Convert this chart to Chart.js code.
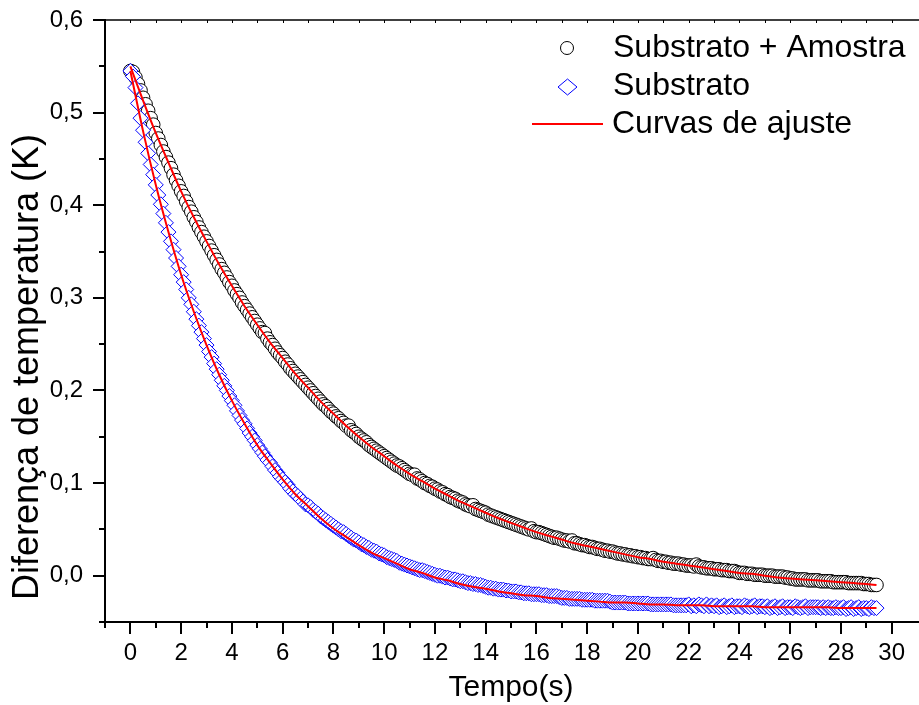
<!DOCTYPE html>
<html>
<head>
<meta charset="utf-8">
<script src="https://cdn.jsdelivr.net/npm/chart.js@4.4.0/dist/chart.umd.min.js"></script>
<style>
  html, body { margin: 0; padding: 0; background: #ffffff; }
  canvas { display: block; }
</style>
</head>
<body>
<canvas id="grafico" width="919" height="705"></canvas>
<script>
// Intervalo de amostragem das medidas (s)
const passo = 0.1;

// Diferença de temperatura medida (K) – substrato + amostra, a cada 0,1 s
const amostra = [
  0.545,0.544,0.538,0.531,0.524,0.516,0.509,0.502,0.494,0.487,
  0.478,0.472,0.465,0.458,0.452,0.446,0.440,0.433,0.427,0.421,
  0.415,0.410,0.404,0.398,0.393,0.387,0.382,0.376,0.371,0.366,
  0.361,0.356,0.351,0.346,0.341,0.336,0.331,0.327,0.322,0.317,
  0.313,0.308,0.304,0.300,0.295,0.291,0.287,0.283,0.279,0.275,
  0.271,0.267,0.263,0.262,0.256,0.252,0.249,0.245,0.241,0.238,
  0.235,0.231,0.228,0.224,0.221,0.218,0.215,0.212,0.209,0.206,
  0.203,0.200,0.197,0.194,0.191,0.188,0.185,0.183,0.180,0.177,
  0.175,0.172,0.170,0.167,0.165,0.162,0.162,0.157,0.155,0.153,
  0.150,0.148,0.146,0.144,0.141,0.139,0.137,0.135,0.133,0.131,
  0.129,0.127,0.125,0.123,0.121,0.119,0.118,0.116,0.114,0.112,
  0.110,0.109,0.109,0.105,0.104,0.102,0.100,0.099,0.097,0.096,
  0.094,0.093,0.091,0.090,0.088,0.087,0.085,0.084,0.083,0.081,
  0.080,0.079,0.077,0.076,0.075,0.076,0.072,0.071,0.070,0.069,
  0.068,0.066,0.065,0.064,0.063,0.062,0.061,0.060,0.059,0.058,
  0.057,0.056,0.055,0.054,0.053,0.052,0.051,0.050,0.051,0.048,
  0.047,0.047,0.046,0.045,0.044,0.043,0.042,0.041,0.041,0.040,
  0.039,0.038,0.038,0.037,0.038,0.035,0.035,0.034,0.033,0.033,
  0.032,0.031,0.031,0.030,0.029,0.029,0.028,0.027,0.027,0.026,
  0.026,0.025,0.024,0.024,0.023,0.023,0.022,0.022,0.021,0.021,
  0.020,0.020,0.019,0.019,0.018,0.018,0.019,0.017,0.016,0.016,
  0.015,0.015,0.014,0.014,0.013,0.013,0.013,0.012,0.012,0.011,
  0.011,0.011,0.010,0.012,0.010,0.009,0.009,0.008,0.008,0.008,
  0.007,0.007,0.007,0.006,0.006,0.006,0.005,0.005,0.005,0.004,
  0.003,0.003,0.003,0.002,0.002,0.002,0.001,0.001,0.001,0.001,
  0.000,0.000,0.000,0.000,-0.001,-0.001,-0.001,-0.001,-0.002,-0.002,
  -0.003,-0.003,-0.004,-0.004,-0.004,-0.004,-0.004,-0.005,-0.005,-0.005,
  -0.005,-0.005,-0.006,-0.006,-0.006,-0.006,-0.006,-0.007,-0.007,-0.007,
  -0.007,-0.007,-0.007,-0.008,-0.008,-0.008,-0.008,-0.008,-0.008,-0.009,
  -0.009,-0.009,-0.010,-0.010,-0.010
];

// Diferença de temperatura medida (K) – somente substrato, a cada 0,1 s
const substrato = [
  0.545,0.539,0.527,0.510,0.494,0.481,0.468,0.456,0.444,0.433,
  0.422,0.411,0.401,0.391,0.381,0.371,0.361,0.352,0.343,0.334,
  0.325,0.317,0.309,0.300,0.293,0.285,0.277,0.270,0.263,0.256,
  0.249,0.242,0.236,0.229,0.223,0.217,0.211,0.205,0.200,0.194,
  0.189,0.184,0.178,0.173,0.168,0.164,0.159,0.154,0.150,0.146,
  0.141,0.137,0.133,0.129,0.125,0.122,0.118,0.114,0.111,0.107,
  0.104,0.101,0.098,0.094,0.091,0.088,0.086,0.083,0.080,0.077,
  0.076,0.074,0.071,0.069,0.067,0.064,0.062,0.060,0.058,0.056,
  0.054,0.052,0.050,0.048,0.047,0.045,0.043,0.041,0.039,0.038,
  0.036,0.034,0.033,0.031,0.030,0.028,0.027,0.026,0.024,0.023,
  0.022,0.020,0.019,0.018,0.017,0.016,0.014,0.013,0.012,0.011,
  0.010,0.009,0.008,0.007,0.006,0.006,0.005,0.004,0.003,0.002,
  0.001,0.000,0.000,-0.001,-0.002,-0.002,-0.003,-0.004,-0.004,-0.005,
  -0.006,-0.006,-0.007,-0.008,-0.008,-0.009,-0.009,-0.010,-0.010,-0.011,
  -0.012,-0.013,-0.013,-0.014,-0.014,-0.015,-0.015,-0.015,-0.016,-0.016,
  -0.017,-0.017,-0.017,-0.018,-0.018,-0.019,-0.019,-0.019,-0.020,-0.020,
  -0.020,-0.020,-0.021,-0.021,-0.021,-0.022,-0.022,-0.022,-0.022,-0.023,
  -0.024,-0.024,-0.024,-0.025,-0.025,-0.025,-0.025,-0.025,-0.026,-0.026,
  -0.026,-0.026,-0.026,-0.027,-0.027,-0.027,-0.027,-0.027,-0.027,-0.028,
  -0.029,-0.029,-0.029,-0.029,-0.029,-0.029,-0.030,-0.030,-0.030,-0.030,
  -0.030,-0.030,-0.030,-0.030,-0.030,-0.031,-0.031,-0.031,-0.031,-0.031,
  -0.031,-0.031,-0.031,-0.031,-0.032,-0.032,-0.032,-0.032,-0.032,-0.032,
  -0.031,-0.033,-0.032,-0.033,-0.031,-0.032,-0.033,-0.031,-0.033,-0.032,
  -0.033,-0.032,-0.034,-0.033,-0.032,-0.034,-0.033,-0.032,-0.034,-0.033,
  -0.033,-0.034,-0.032,-0.033,-0.034,-0.033,-0.032,-0.034,-0.033,-0.033,
  -0.034,-0.033,-0.035,-0.034,-0.033,-0.035,-0.034,-0.033,-0.035,-0.034,
  -0.034,-0.035,-0.033,-0.034,-0.035,-0.034,-0.033,-0.035,-0.034,-0.034,
  -0.034,-0.034,-0.035,-0.034,-0.035,-0.034,-0.035,-0.035,-0.034,-0.035,
  -0.035,-0.034,-0.036,-0.035,-0.034,-0.036,-0.035,-0.034,-0.036,-0.035,
  -0.035,-0.036,-0.034,-0.035,-0.035
];

// Curvas de ajuste (K), avaliadas nos instantes de tempoAjuste (s)
const tempoAjuste = [
  0,0.5,1,1.5,2,2.5,3,3.5,4,4.5,5,5.5,6,6.5,7,7.5,8,8.5,9,9.5,
  10,10.5,11,11.5,12,12.5,13,13.5,14,14.5,15,15.5,16,16.5,17,17.5,18,18.5,19,19.5,
  20,20.5,21,21.5,22,22.5,23,23.5,24,24.5,25,25.5,26,26.5,27,27.5,28,28.5,29,29.4
];
const ajusteAmostra = [
  0.550,0.513,0.478,0.446,0.415,0.387,0.361,0.336,0.313,0.291,
  0.271,0.252,0.235,0.218,0.203,0.188,0.175,0.162,0.150,0.139,
  0.129,0.119,0.110,0.102,0.094,0.087,0.080,0.074,0.068,0.062,
  0.057,0.052,0.047,0.043,0.039,0.035,0.032,0.029,0.026,0.023,
  0.020,0.018,0.015,0.013,0.011,0.009,0.007,0.005,0.003,0.002,
  0.000,-0.002,-0.003,-0.004,-0.005,-0.006,-0.007,-0.008,-0.009,-0.010
];
const ajusteSubstrato = [
  0.545,0.480,0.422,0.371,0.325,0.285,0.249,0.217,0.189,0.164,
  0.141,0.122,0.104,0.088,0.075,0.062,0.051,0.042,0.033,0.025,
  0.019,0.013,0.007,0.003,-0.002,-0.005,-0.009,-0.012,-0.014,-0.017,
  -0.019,-0.021,-0.022,-0.024,-0.025,-0.026,-0.027,-0.028,-0.029,-0.029,
  -0.030,-0.031,-0.031,-0.032,-0.032,-0.032,-0.033,-0.033,-0.033,-0.033,
  -0.034,-0.034,-0.034,-0.034,-0.034,-0.034,-0.035,-0.035,-0.035,-0.035
];

// Marcas dos eixos
const xMaiores = [0,2,4,6,8,10,12,14,16,18,20,22,24,26,28,30];
const xMenores = [-1,1,3,5,7,9,11,13,15,17,19,21,23,25,27,29];
const yMaiores = [0,0.1,0.2,0.3,0.4,0.5,0.6];
const yMenores = [-0.05,0.05,0.15,0.25,0.35,0.45,0.55];

const rotulos = {
  serieAmostra: 'Substrato + Amostra',
  serieSubstrato: 'Substrato',
  ajuste: 'Curvas de ajuste',
  eixoX: 'Tempo(s)',
  eixoY: 'Diferença de temperatura (K)'
};

const fonte = '"Liberation Sans", Arial, Helvetica, sans-serif';
const tempo = amostra.map((_, i) => Math.round(i * passo * 10) / 10);
const pares = (xs, ys) => ys.map((v, i) => ({ x: xs[i], y: v }));

// Eixos no estilo do Origin: linhas, marcas maiores/menores, legenda e títulos
const moldura = {
  id: 'moldura',
  afterDraw(chart) {
    const { ctx, chartArea: a, scales: { x, y } } = chart;
    const W = chart.width;
    ctx.save();
    ctx.strokeStyle = '#000';
    ctx.lineCap = 'butt';

    // linha superior com marcas curtas
    ctx.lineWidth = 1.5;
    ctx.beginPath();
    ctx.moveTo(a.left, a.top);
    ctx.lineTo(W, a.top);
    ctx.stroke();
    ctx.lineWidth = 1;
    ctx.beginPath();
    for (const v of xMaiores.concat(xMenores)) {
      const px = Math.round(x.getPixelForValue(v)) + 0.5;
      ctx.moveTo(px, a.top);
      ctx.lineTo(px, a.top + 3);
    }
    ctx.stroke();

    // eixos esquerdo e inferior
    ctx.lineWidth = 2;
    ctx.beginPath();
    ctx.moveTo(a.left, a.top - 1);
    ctx.lineTo(a.left, a.bottom + 1);
    ctx.moveTo(a.left - 1, a.bottom);
    ctx.lineTo(W, a.bottom);
    ctx.stroke();

    ctx.beginPath();
    for (const v of xMaiores) {
      const px = Math.round(x.getPixelForValue(v));
      ctx.moveTo(px, a.bottom);
      ctx.lineTo(px, a.bottom + 12);
    }
    for (const v of xMenores) {
      const px = Math.round(x.getPixelForValue(v));
      ctx.moveTo(px, a.bottom);
      ctx.lineTo(px, a.bottom + 6);
    }
    for (const v of yMaiores) {
      const py = Math.round(y.getPixelForValue(v));
      ctx.moveTo(a.left, py);
      ctx.lineTo(a.left - 12, py);
    }
    for (const v of yMenores) {
      const py = Math.round(y.getPixelForValue(v));
      ctx.moveTo(a.left, py);
      ctx.lineTo(a.left - 6, py);
    }
    ctx.stroke();

    // legenda
    ctx.lineWidth = 1;
    ctx.strokeStyle = '#000';
    ctx.fillStyle = '#fff';
    ctx.beginPath();
    ctx.arc(567, 48, 6.5, 0, Math.PI * 2);
    ctx.fill();
    ctx.stroke();

    ctx.strokeStyle = '#0000ff';
    ctx.beginPath();
    ctx.moveTo(558, 87);
    ctx.lineTo(567.5, 79);
    ctx.lineTo(577, 87);
    ctx.lineTo(567.5, 95);
    ctx.closePath();
    ctx.fill();
    ctx.stroke();

    ctx.strokeStyle = '#ff0000';
    ctx.lineWidth = 2;
    ctx.beginPath();
    ctx.moveTo(532, 124);
    ctx.lineTo(603, 124);
    ctx.stroke();

    ctx.fillStyle = '#000';
    ctx.font = '32px ' + fonte;
    ctx.textAlign = 'left';
    ctx.textBaseline = 'alphabetic';
    ctx.fillText(rotulos.serieAmostra, 613, 57);
    ctx.fillText(rotulos.serieSubstrato, 613, 95);
    ctx.fillText(rotulos.ajuste, 612, 133);

    // títulos dos eixos
    ctx.font = '30px ' + fonte;
    ctx.textAlign = 'center';
    ctx.fillText(rotulos.eixoX, 511, 696);

    ctx.save();
    ctx.translate(38, 367);
    ctx.rotate(-Math.PI / 2);
    ctx.font = '36px ' + fonte;
    ctx.textAlign = 'center';
    ctx.textBaseline = 'alphabetic';
    ctx.fillText(rotulos.eixoY, 0, 0);
    ctx.restore();

    ctx.restore();
  }
};

new Chart(document.getElementById('grafico'), {
  type: 'scatter',
  data: {
    datasets: [
      {
        label: rotulos.serieAmostra,
        data: pares(tempo, amostra),
        pointStyle: 'circle',
        pointRadius: 6.8,
        borderColor: '#000000',
        backgroundColor: '#ffffff',
        borderWidth: 1,
        order: 4
      },
      {
        label: rotulos.serieSubstrato,
        data: pares(tempo, substrato),
        pointStyle: 'rectRot',
        pointRadius: 7.5,
        borderColor: '#0000ff',
        backgroundColor: '#ffffff',
        borderWidth: 1,
        order: 3
      },
      {
        type: 'line',
        label: rotulos.ajuste,
        data: pares(tempoAjuste, ajusteAmostra),
        borderColor: '#ff0000',
        borderWidth: 2,
        pointRadius: 0,
        showLine: true,
        fill: false,
        cubicInterpolationMode: 'monotone',
        order: 1
      },
      {
        type: 'line',
        label: rotulos.ajuste,
        data: pares(tempoAjuste, ajusteSubstrato),
        borderColor: '#ff0000',
        borderWidth: 2,
        pointRadius: 0,
        showLine: true,
        fill: false,
        cubicInterpolationMode: 'monotone',
        order: 2
      }
    ]
  },
  options: {
    responsive: false,
    animation: false,
    events: [],
    layout: { padding: { top: 20, right: 0, bottom: 0, left: 0 } },
    plugins: { legend: { display: false }, tooltip: { enabled: false } },
    scales: {
      x: {
        type: 'linear',
        min: -1,
        max: 30.74,
        border: { display: false },
        grid: { display: false, drawTicks: false },
        ticks: {
          color: '#000',
          font: { family: fonte, size: 24 },
          padding: 17,
          maxRotation: 0,
          autoSkip: false,
          callback: v => String(v)
        },
        afterBuildTicks: s => { s.ticks = xMaiores.map(v => ({ value: v })); },
        afterFit: s => {
          s.height = 83;
          s.paddingLeft = 0; s.paddingRight = 0; s.paddingTop = 0; s.paddingBottom = 0;
        }
      },
      y: {
        type: 'linear',
        min: -0.05,
        max: 0.6,
        border: { display: false },
        grid: { display: false, drawTicks: false },
        ticks: {
          color: '#000',
          font: { family: fonte, size: 24 },
          padding: 22,
          autoSkip: false,
          callback: v => v.toFixed(1).replace('.', ',')
        },
        afterBuildTicks: s => { s.ticks = yMaiores.map(v => ({ value: v })); },
        afterFit: s => {
          s.width = 105;
          s.paddingLeft = 0; s.paddingRight = 0; s.paddingTop = 0; s.paddingBottom = 0;
        }
      }
    }
  },
  plugins: [moldura]
});
</script>
</body>
</html>
